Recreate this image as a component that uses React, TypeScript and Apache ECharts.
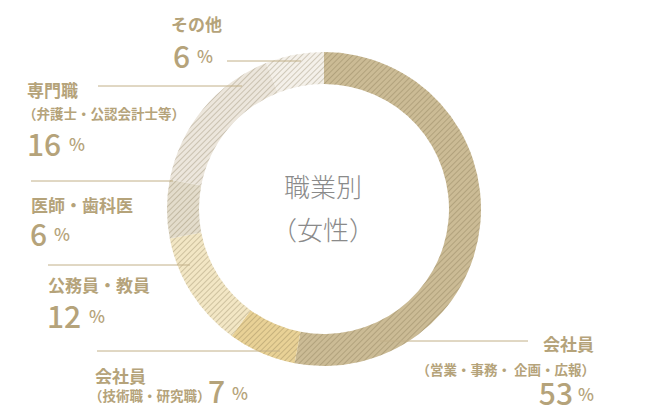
import React, { useEffect, useRef } from "react";
import * as echarts from "echarts";

const categories = ["会社員", "会社員", "公務員・教員", "医師・歯科医", "専門職", "その他"];
const subLabels = ["（営業・事務・ 企画・広報）", "（技術職・研究職）", "", "", "（弁護士・公認会計士等）", ""];
const values = [53, 7, 12, 6, 16, 6];
const colors = ["#cbbb95", "#e8d196", "#f2e6c4", "#e3dccb", "#ece6dc", "#f4f0e9"];
const centerTitle = ["職業別", "（女性）"];

const GOLD = "#b5a37a";
const LINE = "#c2b088";
const FONT = "'Noto Sans CJK JP', 'Noto Sans', sans-serif";

export default function App() {
  const ref = useRef<HTMLDivElement>(null);
  useEffect(() => {
    if (!ref.current) return;
    const chart = echarts.init(ref.current, undefined, { renderer: "svg" });

    const lines: [number, number, number][] = [
      [380, 528, 341],
      [97, 280, 351],
      [48, 190, 265],
      [31, 173, 181],
      [98, 242, 86],
      [227, 301, 61],
    ];
    const graphics: any[] = [];
    lines.forEach(([x1, x2, y]) => {
      graphics.push({
        type: "line",
        shape: { x1, y1: y, x2, y2: y },
        style: { stroke: LINE, lineWidth: 1 },
        z: 100,
      });
    });
    const t = (text: string, x: number, y: number, size: number, align = "left", weight: any = 700) => ({
      type: "text",
      x,
      y,
      z: 100,
      style: {
        text,
        fill: GOLD,
        font: `${weight} ${size}px ${FONT}`,
        textAlign: align,
        textVerticalAlign: "middle",
      },
    });
    const CAT = 17;
    const SUB = 13.5;
    const NUM = 30;
    const PCT = 17;
    // 0: 会社員 営業
    graphics.push(t(categories[0], 594, 343, CAT, "right"));
    graphics.push(t(subLabels[0], 595, 369, SUB, "right"));
    graphics.push(t(String(values[0]), 573, 392, NUM, "right", 500));
    graphics.push(t("%", 594, 393, PCT, "right", 500));
    // 1: 会社員 技術
    graphics.push(t(categories[1], 95, 375, CAT));
    graphics.push(t(subLabels[1], 89, 395, SUB));
    graphics.push(t(String(values[1]), 208, 390, NUM, "left", 500));
    graphics.push(t("%", 232, 392, PCT, "left", 500));
    // 2: 公務員
    graphics.push(t(categories[2], 48, 284, CAT));
    graphics.push(t(String(values[2]), 47, 315, NUM, "left", 500));
    graphics.push(t("%", 89, 315, PCT, "left", 500));
    // 3: 医師
    graphics.push(t(categories[3], 31, 204, CAT));
    graphics.push(t(String(values[3]), 30, 233, NUM, "left", 500));
    graphics.push(t("%", 54, 233, PCT, "left", 500));
    // 4: 専門職
    graphics.push(t(categories[4], 27, 89, CAT));
    graphics.push(t(subLabels[4], 23, 113, SUB));
    graphics.push(t(String(values[4]), 27, 143, NUM, "left", 500));
    graphics.push(t("%", 69, 143, PCT, "left", 500));
    // 5: その他
    graphics.push(t(categories[5], 222, 23, CAT, "right"));
    graphics.push(t(String(values[5]), 173, 55, NUM, "left", 500));
    graphics.push(t("%", 197, 55, PCT, "left", 500));
    // center
    graphics.push({
      type: "text",
      x: 323,
      y: 185,
      z: 100,
      style: { text: centerTitle[0], fill: "#8a8a8a", font: `300 26px ${FONT}`, textAlign: "center", textVerticalAlign: "middle" },
    });
    graphics.push({
      type: "text",
      x: 323,
      y: 228,
      z: 100,
      style: { text: centerTitle[1], fill: "#8a8a8a", font: `300 26px ${FONT}`, textAlign: "center", textVerticalAlign: "middle" },
    });

    chart.setOption({
      animation: false,
      graphic: graphics,
      series: [
        {
          type: "pie",
          center: [324, 209],
          radius: [125, 157],
          startAngle: 90,
          clockwise: true,
          label: { show: false },
          labelLine: { show: false },
          emphasis: { disabled: true },
          data: values.map((v, i) => ({
            value: v,
            name: categories[i] + subLabels[i],
            itemStyle: {
              color: colors[i],
              decal: {
                symbol: "rect",
                symbolSize: 1,
                color: "rgba(110, 95, 60, 0.28)",
                dashArrayX: [1, 0],
                dashArrayY: [1, 3],
                rotation: -Math.PI / 4,
              },
            },
          })),
        },
      ],
    });
    return () => chart.dispose();
  }, []);
  return <div ref={ref} style={{ position: "absolute", left: 0, top: 0, width: 650, height: 410 }} />;
}
